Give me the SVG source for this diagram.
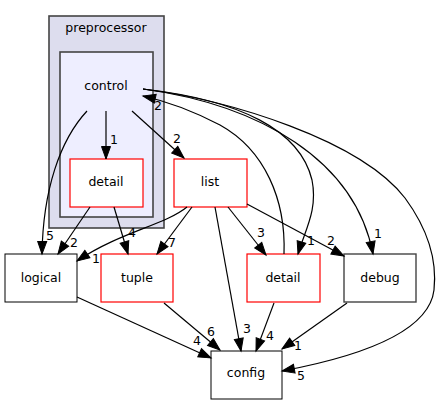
<svg xmlns="http://www.w3.org/2000/svg" width="441" height="404" viewBox="0 0 441 404">
<style>
text{font-family:"DejaVu Sans","Liberation Sans",sans-serif;font-size:12.5px;fill:#000;text-anchor:middle}
.cl1{fill:#ddddee;stroke:#444;stroke-width:1.6}
.cl2{fill:#eeeeff;stroke:#444;stroke-width:1.6}
.n{fill:#fff;stroke:#000;stroke-width:1}
.r{fill:#fff;stroke:#ff0000;stroke-width:1.2}
.g{fill:#fff;stroke:#444;stroke-width:1.4}
.e{fill:none;stroke:#000;stroke-width:1.2;marker-end:url(#ah)}
</style>
<defs>
<marker id="ah" markerUnits="userSpaceOnUse" markerWidth="14" markerHeight="12" refX="12.5" refY="5" orient="auto" overflow="visible">
<path d="M0,0.5 L12.5,5 L0,9.5 Z" fill="#000" stroke="#000" stroke-width="1"/>
</marker>
</defs>
<rect width="441" height="404" fill="#fff"/>
<g id="cluster_preprocessor">
<rect class="cl1" x="49" y="16" width="115" height="212"/>
<text x="106" y="32">preprocessor</text>
</g>
<g id="cluster_control">
<rect class="cl2" x="60" y="52" width="93" height="165"/>
</g>
<g id="node_control">
<text x="106" y="90">control</text>
</g>
<g id="node_detail_inner">
<rect class="r" x="70" y="159" width="73" height="48"/>
<text x="106" y="186">detail</text>
</g>
<g id="node_list">
<rect class="r" x="174" y="159" width="73" height="48"/>
<text x="210" y="186">list</text>
</g>
<g id="node_logical">
<rect class="n" x="5" y="254" width="72" height="48"/>
<text x="41" y="282">logical</text>
</g>
<g id="node_tuple">
<rect class="r" x="101" y="254" width="72" height="48"/>
<text x="137" y="282">tuple</text>
</g>
<g id="node_detail">
<rect class="r" x="247" y="254" width="73" height="48"/>
<text x="283" y="282">detail</text>
</g>
<g id="node_debug">
<rect class="g" x="344" y="254" width="72" height="48"/>
<text x="380" y="282">debug</text>
</g>
<g id="node_config">
<rect class="n" x="211" y="351" width="71" height="48"/>
<text x="246" y="377">config</text>
</g>
<g id="edges">
<path class="e" d="M106,111 L106,159"/>
<text x="114" y="144">1</text>
<path class="e" d="M132,111 L184,158"/>
<text x="177" y="143">2</text>
<path class="e" d="M87,111 C60,140 43,190 42,254"/>
<text x="50" y="240">5</text>
<path class="e" d="M90,207 L58,254"/>
<text x="74" y="247">2</text>
<path class="e" d="M114,207 L128,254"/>
<text x="132" y="237">4</text>
<path class="e" d="M187,207 C165,225 120,232 77,261"/>
<text x="96" y="263">1</text>
<path class="e" d="M192,207 L157,254"/>
<text x="172" y="247">7</text>
<path class="e" d="M228,207 L266,255"/>
<text x="261" y="237">3</text>
<path class="e" d="M247,204 L344,256"/>
<text x="331" y="245">2</text>
<path class="e" d="M215,207 L241,351"/>
<text x="247" y="333">3</text>
<path class="e" d="M77,297 L211,358"/>
<text x="197" y="345">4</text>
<path class="e" d="M164,303 L220,350"/>
<text x="211" y="336">6</text>
<path class="e" d="M274,303 L256,351"/>
<text x="270" y="340">4</text>
<path class="e" d="M347,303 L282,349"/>
<text x="298" y="350">1</text>
<path class="e" d="M143,89 C230,100 360,140 405,198 C430,232 437,262 434,290 C428,340 330,362 282,371"/>
<text x="301" y="380">5</text>
<path class="e" d="M143,89 C260,105 355,160 373,254"/>
<text x="378" y="238">1</text>
<path class="e" d="M143,89 C240,100 300,130 312,180 C318,210 305,230 298,254"/>
<text x="311" y="245">1</text>
<path class="e" d="M284,254 C286,200 265,150 220,125 C195,112 170,102 143,96"/>
<text x="158" y="110">2</text>
</g>
</svg>
